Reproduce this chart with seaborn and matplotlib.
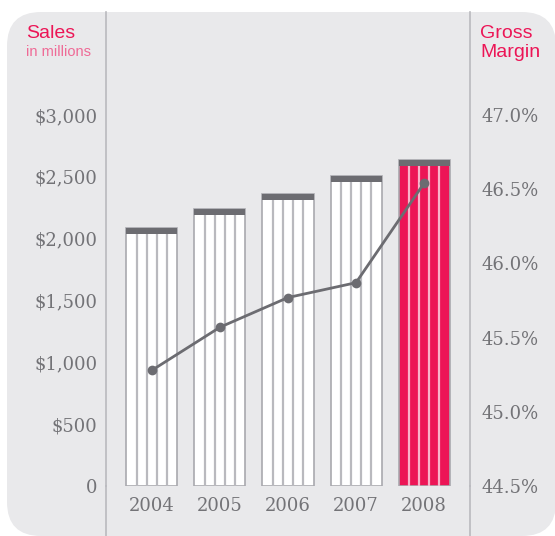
import seaborn as sns
import matplotlib.pyplot as plt
import pandas as pd
import numpy as np
from matplotlib.patches import FancyBboxPatch
from matplotlib.lines import Line2D

years = ["2004", "2005", "2006", "2007", "2008"]
sales = [2086, 2240, 2361, 2506, 2636]
margin = [45.28, 45.57, 45.77, 45.87, 46.54]
sales_ticks = [0, 500, 1000, 1500, 2000, 2500, 3000]
sales_labels = ["0", "$500", "$1,000", "$1,500", "$2,000", "$2,500", "$3,000"]
margin_ticks = [44.5, 45.0, 45.5, 46.0, 46.5, 47.0]
margin_labels = ["44.5%", "45.0%", "45.5%", "46.0%", "46.5%", "47.0%"]

bg = "#e9e9eb"
pink = "#ec1556"
grey_txt = "#737377"
dark = "#6c6c71"
spine_c = "#b9b9be"

df = pd.DataFrame({"year": years, "sales": sales, "margin": margin})

W, H = 555, 536
fig = plt.figure(figsize=(W / 100, H / 100), dpi=100, facecolor="white")
# rounded grey panel, sizes in inches
fig.patches.append(FancyBboxPatch((0.07, 0.0), 5.49, 5.24,
                                  boxstyle="round,pad=0,rounding_size=0.34",
                                  transform=fig.dpi_scale_trans, facecolor=bg,
                                  edgecolor="none", zorder=-5))

ax = fig.add_axes([106 / W, 50 / H, 364 / W, 474 / H])
ax.set_facecolor("none")

colors = ["white"] * 4 + [pink]
sns.barplot(data=df, x="year", y="sales", hue="year", palette=colors,
            width=0.75, edgecolor="#a9a9ae", linewidth=1.2, legend=False,
            saturation=1, ax=ax, zorder=2)

# stripes and caps from the drawn bars
cap = 48
for p, c in zip(list(ax.patches), colors):
    x0, w, h = p.get_x(), p.get_width(), p.get_height()
    stripe = "#b9b9be" if c == "white" else "#f9b3ca"
    ax.vlines([x0 + w * k / 5 for k in range(1, 5)], 0, h, colors=stripe,
              linewidth=1.6, zorder=3)
    ax.bar(x0 + w / 2, cap, width=w, bottom=h - cap, color=dark, zorder=4)

ax.set_xlim(-0.676, 4.676)
ax.set_ylim(0, 3833)
ax.set_yticks(sales_ticks, sales_labels)
ax.set_xlabel("")
ax.set_ylabel("")
ax.tick_params(axis="y", length=0, pad=6, labelsize=13, labelcolor=grey_txt)
ax.tick_params(axis="x", length=0, pad=8, labelsize=13, labelcolor=grey_txt)
for t in ax.get_xticklabels() + ax.get_yticklabels():
    t.set_fontfamily("DejaVu Serif")
for s in ["top", "bottom", "right"]:
    ax.spines[s].set_visible(False)
ax.spines["left"].set_color(spine_c)
ax.spines["left"].set_linewidth(1.2)

ax2 = ax.twinx()
sns.lineplot(x=np.arange(len(years)), y=margin, color=dark, linewidth=2,
             marker="o", markersize=7, markeredgewidth=0, ax=ax2, zorder=5)
ax2.set_ylim(44.5, 44.5 + 474 / 148.4)
ax2.set_yticks(margin_ticks, margin_labels)
ax2.tick_params(axis="y", length=0, pad=8, labelsize=13, labelcolor=grey_txt)
for t in ax2.get_yticklabels():
    t.set_fontfamily("DejaVu Serif")
for s in ["top", "bottom", "left"]:
    ax2.spines[s].set_visible(False)
ax2.spines["right"].set_color(spine_c)
ax2.spines["right"].set_linewidth(1.2)

# spines run down to the bottom edge
for xp in [106 / W, 470 / W]:
    fig.add_artist(Line2D([xp, xp], [0, 50 / H], transform=fig.transFigure,
                          color=spine_c, linewidth=1.2))

fig.text(26 / W, 1 - 38 / H, "Sales", color=pink, fontsize=14,
         family="Liberation Sans")
fig.text(26 / W, 1 - 56 / H, "in millions", color="#ef6a96", fontsize=10.5,
         family="Liberation Sans")
fig.text(480 / W, 1 - 57 / H, "Gross\nMargin", color=pink, fontsize=14,
         family="Liberation Sans", linespacing=1.15)

fig.savefig("out.png", dpi=100, facecolor="white")
